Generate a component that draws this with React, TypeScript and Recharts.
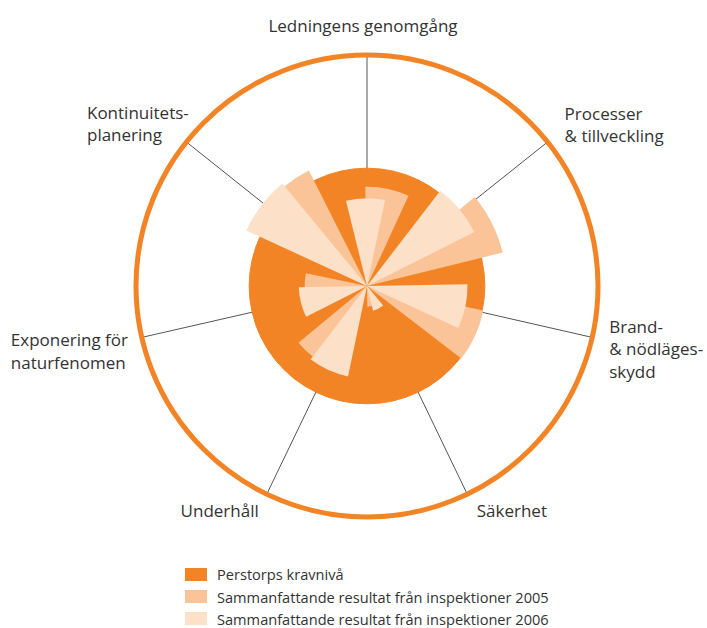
import React from 'react';
import {
  RadialBarChart,
  RadialBar,
  PolarAngleAxis,
  PolarRadiusAxis,
  PolarGrid,
} from 'recharts';

const categories = [
  'Ledningens genomgång',
  'Processer & tillveckling',
  'Brand- & nödlägesskydd',
  'Säkerhet',
  'Underhåll',
  'Exponering för naturfenomen',
  'Kontinuitetsplanering',
];

const labelLines = [
  ['Ledningens genomgång'],
  ['Processer', '& tillveckling'],
  ['Brand-', '& nödläges-', 'skydd'],
  ['Säkerhet'],
  ['Underhåll'],
  ['Exponering för', 'naturfenomen'],
  ['Kontinuitets-', 'planering'],
];

const kravniva = [51, 51, 51, 51, 51, 51, 51];
const result2005 = [43, 60.5, 51.5, 9, 38.5, 27, 56];
const result2006 = [38, 52, 43.5, 11, 40, 29.5, 57.5];

const legendLabels = [
  'Perstorps kravnivå',
  'Sammanfattande resultat från inspektioner 2005',
  'Sammanfattande resultat från inspektioner 2006',
];

const ORANGE = '#F38426';
const MID = '#FBC498';
const LIGHT = '#FDE0C8';
const TEXT = '#333333';
const FONT = '"Open Sans", "Noto Sans", sans-serif';

const data = categories.map((name, i) => ({
  name,
  krav: kravniva[i],
  r2005: result2005[i],
  r2006: result2006[i],
}));

const W = 707;
const H = 545;
const CX = 367;
const CY = 286;
const R = 231;
const STEP = 360 / categories.length;
const HALF = STEP / 2;
// recharts truncates the centering offset of a fixed-size bar to whole degrees
const BAR_OFFSET = Math.floor((STEP - HALF) / 2);

// label offsets from the point where each spoke meets the ring
const labelPlacement = [
  { anchor: 'middle', dx: -4, dy: -23 },
  { anchor: 'start', dx: 17, dy: -22 },
  { anchor: 'start', dx: 17, dy: -4.7 },
  { anchor: 'start', dx: 9.5, dy: 22.6 },
  { anchor: 'end', dx: -8, dy: 22.6 },
  { anchor: 'start', dx: -131, dy: 8.6 },
  { anchor: 'start', dx: -99.4, dy: -23 },
];

const LabelTick = (props: any) => {
  const { x, y, index, payload } = props;
  const place = labelPlacement[index];
  const lines = labelLines[index];
  if (!place || !lines) return null;
  // tick point sits 8px outside the ring, step back onto it
  const rad = ((payload?.coordinate ?? 0) * Math.PI) / 180;
  const rx = x - 8 * Math.cos(rad);
  const ry = y + 8 * Math.sin(rad);
  return (
    <text
      x={rx + place.dx}
      y={ry + place.dy}
      textAnchor={place.anchor}
      fontFamily={FONT}
      fontSize={17}
      fill={TEXT}
    >
      {lines.map((line, i) => (
        <tspan key={i} x={rx + place.dx} dy={i === 0 ? 0 : 22.5}>
          {line}
        </tspan>
      ))}
    </text>
  );
};

const layerStyle: React.CSSProperties = { position: 'absolute', left: 0, top: 0 };
const margin = { top: 0, right: 0, bottom: 0, left: 0 };

export default function App() {
  // category k is ticked at start - k*STEP and its bars run counter-clockwise from there
  const baseStart = 90;
  const start2005 = 90 - HALF - BAR_OFFSET;
  const start2006 = 90 - HALF / 2 - BAR_OFFSET;
  return (
    <div style={{ position: 'absolute', left: 0, top: 0, width: 707, height: 628, background: '#fff' }}>
      {/* ring, spokes, required level and labels */}
      <div style={layerStyle}>
        <RadialBarChart
          width={W}
          height={H}
          data={data}
          layout="centric"
          cx={CX}
          cy={CY}
          innerRadius={0}
          outerRadius={R}
          startAngle={baseStart}
          endAngle={baseStart - 360}
          margin={margin}
        >
          <PolarGrid gridType="circle" polarRadius={[]} stroke="#555" strokeWidth={1} />
          <PolarGrid gridType="circle" radialLines={false} stroke={ORANGE} strokeWidth={5} />
          <PolarAngleAxis
            type="category"
            dataKey="name"
            axisLine={false}
            tickLine={false}
            tick={<LabelTick />}
          />
          <PolarRadiusAxis type="number" domain={[0, 100]} ticks={[100]} tick={false} axisLine={false} />
          <RadialBar
            dataKey="krav"
            fill={ORANGE}
            stroke={ORANGE}
            strokeWidth={1}
            barSize={51.4}
            isAnimationActive={false}
          />
        </RadialBarChart>
      </div>
      {/* 2005 */}
      <div style={layerStyle}>
        <RadialBarChart
          width={W}
          height={H}
          data={data}
          layout="centric"
          cx={CX}
          cy={CY}
          innerRadius={0}
          outerRadius={R}
          startAngle={start2005}
          endAngle={start2005 - 360}
          margin={margin}
        >
          <PolarAngleAxis type="category" dataKey="name" axisLine={false} tickLine={false} tick={false} />
          <PolarRadiusAxis type="number" domain={[0, 100]} tick={false} axisLine={false} />
          <RadialBar dataKey="r2005" fill={MID} barSize={HALF} isAnimationActive={false} />
        </RadialBarChart>
      </div>
      {/* 2006 */}
      <div style={layerStyle}>
        <RadialBarChart
          width={W}
          height={H}
          data={data}
          layout="centric"
          cx={CX}
          cy={CY}
          innerRadius={0}
          outerRadius={R}
          startAngle={start2006}
          endAngle={start2006 - 360}
          margin={margin}
        >
          <PolarAngleAxis type="category" dataKey="name" axisLine={false} tickLine={false} tick={false} />
          <PolarRadiusAxis type="number" domain={[0, 100]} tick={false} axisLine={false} />
          <RadialBar dataKey="r2006" fill={LIGHT} barSize={HALF} isAnimationActive={false} />
        </RadialBarChart>
      </div>
      {/* legend */}
      <div style={{ position: 'absolute', left: 185, top: 563, fontFamily: FONT, fontSize: 14.6, color: TEXT }}>
        {legendLabels.map((label, i) => (
          <div key={label} style={{ display: 'flex', alignItems: 'center', height: 22.4 }}>
            <span
              style={{
                display: 'inline-block',
                width: 22,
                height: 13,
                marginRight: 10,
                background: [ORANGE, MID, LIGHT][i],
              }}
            />
            <span>{label}</span>
          </div>
        ))}
      </div>
    </div>
  );
}
